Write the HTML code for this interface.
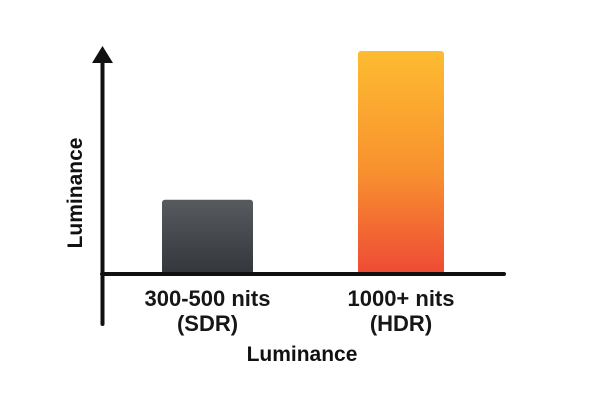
<!DOCTYPE html>
<html><head><meta charset="utf-8"><style>
body{margin:0;background:#fff;}
svg{display:block;font-family:"Liberation Sans",sans-serif;}
</style></head><body>
<svg id="chart" width="600" height="400">
<defs>
<linearGradient id="gSdr" x1="0" y1="0" x2="0" y2="1"><stop offset="0" stop-color="#575a5e"/><stop offset="1" stop-color="#33373c"/></linearGradient>
<linearGradient id="gHdr" x1="0" y1="0" x2="0" y2="1"><stop offset="0" stop-color="#fdbc30"/><stop offset="0.55" stop-color="#f8902f"/><stop offset="1" stop-color="#ee4a35"/></linearGradient>
</defs>
<g id="bars"></g>
<line x1="102.5" y1="60" x2="102.5" y2="324" stroke="#111" stroke-width="4" stroke-linecap="round"/>
<polygon points="102.5,46 92,63 113,63" fill="#111"/>
<line x1="102" y1="274" x2="504" y2="274" stroke="#111" stroke-width="4" stroke-linecap="round"/>
<g id="labels" font-size="22" font-weight="bold" fill="#161616" text-anchor="middle"></g>
<text x="302" y="361" font-size="21" font-weight="bold" fill="#111" text-anchor="middle">Luminance</text>
<text transform="translate(82,193) rotate(-90)" font-size="21" font-weight="bold" fill="#111" text-anchor="middle">Luminance</text>
</svg>
<script>
const categories=["300-500 nits","1000+ nits"];
const subLabels=["(SDR)","(HDR)"];
const values=[330,1000];
const fills=["url(#gSdr)","url(#gHdr)"];
const ns="http://www.w3.org/2000/svg";
const baseY=273, topY=51, yMax=1000;
function y(v){return baseY-(v/yMax)*(baseY-topY);}
function xc(i){return 207.5+i*(401-207.5);}
const gb=document.getElementById('bars'), gl=document.getElementById('labels');
values.forEach((v,i)=>{
  const r=document.createElementNS(ns,'rect');
  const w=i===0?91:86;
  r.setAttribute('x',xc(i)-w/2);r.setAttribute('y',y(v));
  r.setAttribute('width',w);r.setAttribute('height',baseY+1-y(v));
  r.setAttribute('rx',3);r.setAttribute('fill',fills[i]);
  
  
  gb.appendChild(r);
  const t=document.createElementNS(ns,'text');
  t.setAttribute('x',xc(i));t.setAttribute('y',306);t.textContent=categories[i];
  
  
  gl.appendChild(t);
  const t2=document.createElementNS(ns,'text');
  t2.setAttribute('x',xc(i));t2.setAttribute('y',331);t2.textContent=subLabels[i];
  
  
  gl.appendChild(t2);
});
</script>
</body></html>
